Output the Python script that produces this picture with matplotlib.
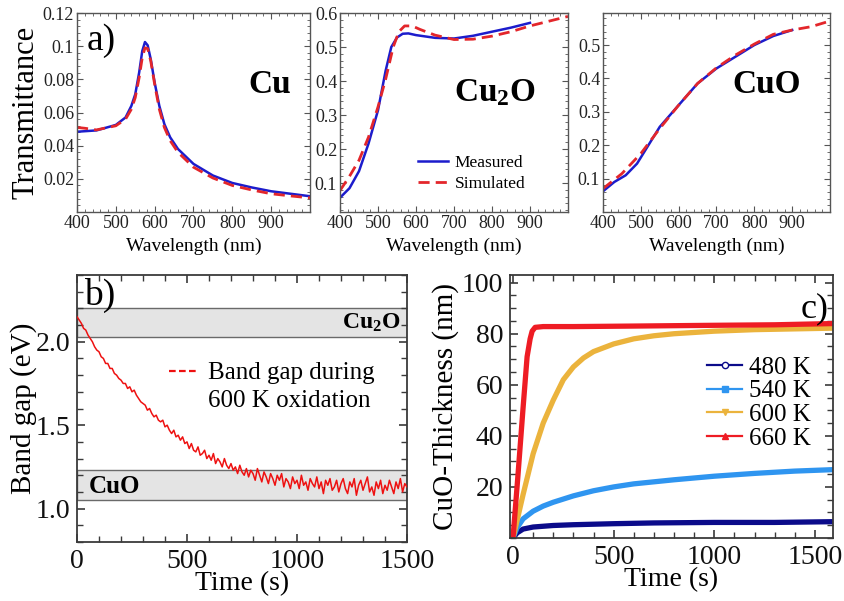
import numpy as np
import matplotlib
matplotlib.use("Agg")
import matplotlib.pyplot as plt
from matplotlib.lines import Line2D
from matplotlib.ticker import MultipleLocator, FixedLocator

plt.rcParams['font.family'] = ['Liberation Serif', 'DejaVu Serif']
plt.rcParams['mathtext.fontset'] = 'custom'
plt.rcParams['mathtext.rm'] = 'Liberation Serif'
plt.rcParams['mathtext.bf'] = 'Liberation Serif:bold'
plt.rcParams['mathtext.default'] = 'bf'

# ---------------- data: panel a ----------------
cu_wl_meas = [400, 450, 500, 525, 540, 550, 560, 568, 575, 582, 590, 600, 612, 625, 640, 660, 700, 750, 800, 850, 900, 950, 1000]
cu_meas = [0.0484, 0.0492, 0.0525, 0.057, 0.064, 0.071, 0.084, 0.097, 0.1025, 0.1005, 0.092, 0.078, 0.064, 0.053, 0.045,
           0.038, 0.029, 0.022, 0.0175, 0.0148, 0.0125, 0.011, 0.0095]
cu_wl_sim = [400, 420, 450, 500, 525, 540, 550, 560, 568, 575, 582, 590, 600, 612, 625, 640, 660, 700, 750, 800, 850, 900, 950, 1000]
cu_sim = [0.051, 0.0505, 0.0495, 0.052, 0.056, 0.062, 0.069, 0.081, 0.093, 0.099, 0.0985, 0.091, 0.077, 0.062, 0.051, 0.043,
          0.036, 0.027, 0.0205, 0.016, 0.0133, 0.011, 0.0097, 0.0085]

cu2o_wl_meas = [400, 425, 450, 475, 500, 520, 535, 550, 565, 580, 600, 650, 700, 750, 800, 850, 900]
cu2o_meas = [0.057, 0.085, 0.135, 0.216, 0.314, 0.43, 0.50, 0.528, 0.539, 0.54, 0.535, 0.527, 0.525, 0.533, 0.545, 0.557, 0.571]
cu2o_wl_sim = [400, 425, 450, 475, 500, 520, 540, 555, 570, 590, 610, 650, 700, 750, 800, 850, 900, 950, 1000]
cu2o_sim = [0.078, 0.12, 0.167, 0.235, 0.324, 0.405, 0.50, 0.545, 0.562, 0.562, 0.552, 0.535, 0.522, 0.523, 0.532, 0.545,
            0.562, 0.576, 0.59]

cuo_wl_meas = [400, 430, 460, 490, 520, 550, 600, 650, 700, 750, 800, 850, 900]
cuo_meas = [0.062, 0.09, 0.11, 0.145, 0.20, 0.255, 0.32, 0.385, 0.43, 0.465, 0.50, 0.527, 0.545]
cuo_wl_sim = [400, 450, 500, 550, 600, 650, 700, 750, 800, 850, 900, 950, 1000]
cuo_sim = [0.07, 0.115, 0.175, 0.25, 0.32, 0.385, 0.432, 0.47, 0.503, 0.532, 0.545, 0.555, 0.572]

wl_ticks = [400, 500, 600, 700, 800, 900]
cu_yticks = [0.02, 0.04, 0.06, 0.08, 0.1, 0.12]
cu_ylabels = ['0.02', '0.04', '0.06', '0.08', '0.1', '0.12']
cu2o_yticks = [0.1, 0.2, 0.3, 0.4, 0.5, 0.6]
cuo_yticks = [0.1, 0.2, 0.3, 0.4, 0.5]

# ---------------- data: panel b ----------------
bg_time_step = 10
band_gap = [
    2.15, 2.13, 2.11, 2.08, 2.07, 2.04, 2.02, 2.00, 1.97, 1.95,
    1.94, 1.91, 1.90, 1.87, 1.87, 1.84, 1.84, 1.81, 1.80, 1.78,
    1.77, 1.75, 1.75, 1.72, 1.73, 1.70, 1.71, 1.68, 1.66, 1.64,
    1.63, 1.62, 1.59, 1.60, 1.57, 1.55, 1.56, 1.53, 1.52, 1.53,
    1.49, 1.50, 1.47, 1.45, 1.47, 1.43, 1.44, 1.41, 1.43, 1.39,
    1.40, 1.36, 1.39, 1.35, 1.34, 1.37, 1.32, 1.33, 1.35, 1.30,
    1.32, 1.29, 1.33, 1.27, 1.30, 1.28, 1.25, 1.30, 1.26, 1.24,
    1.27, 1.23, 1.25, 1.21, 1.26, 1.22, 1.20, 1.24, 1.19, 1.23,
    1.21, 1.17, 1.24, 1.20, 1.16, 1.22, 1.19, 1.15, 1.21, 1.18,
    1.14, 1.20, 1.17, 1.21, 1.13, 1.18, 1.16, 1.12, 1.19, 1.15,
    1.17, 1.12, 1.20, 1.14, 1.16, 1.11, 1.18, 1.15, 1.13, 1.19,
    1.12, 1.16, 1.09, 1.17, 1.14, 1.18, 1.11, 1.13, 1.17, 1.10,
    1.15, 1.18, 1.12, 1.09, 1.16, 1.13, 1.18, 1.08, 1.14, 1.17,
    1.11, 1.15, 1.19, 1.10, 1.13, 1.08, 1.16, 1.12, 1.17, 1.09,
    1.14, 1.11, 1.17, 1.13, 1.09, 1.16, 1.12, 1.18, 1.10, 1.15,
    1.13]
cu2o_band = (2.03, 2.20)
cuo_band = (1.05, 1.23)

# ---------------- data: panel c ----------------
t660 = [0, 25, 50, 70, 85, 95, 110, 150, 300, 600, 1000, 1300, 1600]
th660 = [0, 25, 51, 71, 78, 81, 82.5, 82.8, 82.8, 83.0, 83.3, 83.5, 84.0]
t600 = [0, 50, 100, 150, 200, 250, 300, 350, 400, 500, 600, 700, 800, 1000, 1200, 1600]
th600 = [0, 17, 33, 45, 54, 62, 67, 70.5, 73, 76, 78, 79.2, 80, 81, 81.6, 82.2]
t540 = [0, 20, 50, 100, 150, 200, 300, 400, 500, 600, 700, 800, 1000, 1200, 1400, 1600]
th540 = [0, 4, 7.5, 10.5, 12.5, 14, 16.5, 18.5, 20, 21.2, 22, 22.8, 24.2, 25.3, 26.2, 26.8]
t480 = [0, 20, 50, 100, 200, 300, 500, 700, 1000, 1300, 1600]
th480 = [0, 2, 3.5, 4.3, 4.9, 5.2, 5.6, 5.9, 6.1, 6.1, 6.4]
c_labels = ['480 K', '540 K', '600 K', '660 K']
c_colors = ['#0b0b8a', '#2f95f0', '#ebb33c', '#ee1c24']
c_markers = ['o', 's', 'v', '^']

W, H = 845, 601
fig = plt.figure(figsize=(W / 100, H / 100), dpi=100)


def box(l, r, t, b):
    return [l / W, 1 - b / H, (r - l) / W, (b - t) / H]


spine_col = '#3a3a3a'
blue = '#1c1ccc'
red = '#e3262b'


def style_top(ax):
    for s in ax.spines.values():
        s.set_color('#555555')
        s.set_linewidth(1.0)
    ax.tick_params(which='both', direction='in', top=True, right=True, colors='#555555',
                   labelcolor='#222222', labelsize=13, pad=2)
    ax.tick_params(which='major', length=4, width=0.8)
    ax.tick_params(which='minor', length=2, width=0.6)
    ax.set_xlim(400, 1000)
    ax.xaxis.set_major_locator(FixedLocator(wl_ticks))
    ax.xaxis.set_minor_locator(MultipleLocator(20))
    ax.set_xlabel('Wavelength (nm)', fontsize=14, labelpad=4)


dash = (4, 2.2)

# Cu
ax1 = fig.add_axes(box(77, 310, 13, 212))
ax1.plot(cu_wl_meas, cu_meas, color=blue, lw=1.8)
ax1.plot(cu_wl_sim, cu_sim, color=red, lw=2.0, ls=(0, dash))
style_top(ax1)
ax1.set_ylim(0, 0.12)
ax1.yaxis.set_major_locator(FixedLocator(cu_yticks))
ax1.set_yticklabels(cu_ylabels)
ax1.yaxis.set_minor_locator(MultipleLocator(0.004))
ax1.set_ylabel('Transmittance', fontsize=22, labelpad=2)
ax1.text(0.04, 0.95, 'a)', transform=ax1.transAxes, fontsize=27, va='top', ha='left')
ax1.text(0.92, 0.64, 'Cu', transform=ax1.transAxes, fontsize=24, fontweight='bold', ha='right', va='center')

# Cu2O
ax2 = fig.add_axes(box(340, 568, 13, 212))
ax2.plot(cu2o_wl_meas, cu2o_meas, color=blue, lw=1.8, label='Measured')
ax2.plot(cu2o_wl_sim, cu2o_sim, color=red, lw=2.0, ls=(0, dash), label='Simulated')
style_top(ax2)
ax2.set_ylim(0.015, 0.6)
ax2.yaxis.set_major_locator(FixedLocator(cu2o_yticks))
ax2.yaxis.set_minor_locator(MultipleLocator(0.02))
ax2.text(0.86, 0.60, 'Cu$_2$O', transform=ax2.transAxes, fontsize=24, fontweight='bold', ha='right', va='center')
ax2.legend(loc='lower right', bbox_to_anchor=(0.86, 0.05), frameon=False, fontsize=12.5, handlelength=1.7,
           handletextpad=0.4, labelspacing=0.25, borderaxespad=0.2)

# CuO
ax3 = fig.add_axes(box(603, 830, 13, 212))
ax3.plot(cuo_wl_meas, cuo_meas, color=blue, lw=1.8)
ax3.plot(cuo_wl_sim, cuo_sim, color=red, lw=2.0, ls=(0, dash))
style_top(ax3)
ax3.set_ylim(0.0, 0.596)
ax3.yaxis.set_major_locator(FixedLocator(cuo_yticks))
ax3.yaxis.set_minor_locator(MultipleLocator(0.02))
ax3.text(0.87, 0.64, 'CuO', transform=ax3.transAxes, fontsize=24, fontweight='bold', ha='right', va='center')


def style_bottom(ax):
    for s in ax.spines.values():
        s.set_color(spine_col)
        s.set_linewidth(1.3)
    ax.tick_params(which='both', direction='in', top=True, right=True, colors=spine_col,
                   labelcolor='#111111', labelsize=20, pad=5)
    ax.tick_params(which='major', length=6, width=1.2)
    ax.tick_params(which='minor', length=4, width=1.0)
    ax.xaxis.set_major_locator(MultipleLocator(500))
    ax.xaxis.set_minor_locator(MultipleLocator(100))
    ax.set_xlabel('Time (s)', fontsize=20, labelpad=-2)


# Panel b
axb = fig.add_axes(box(77, 407, 275, 542))
tb = np.arange(len(band_gap)) * bg_time_step
axb.axhspan(*cu2o_band, facecolor='#e4e4e4', edgecolor='#6a6a6a', lw=1.0, zorder=0)
axb.axhspan(*cuo_band, facecolor='#e4e4e4', edgecolor='#6a6a6a', lw=1.0, zorder=0)
axb.plot(tb, band_gap, color='#ee1111', lw=1.1, zorder=3)
style_bottom(axb)
axb.set_xlim(0, 1500)
axb.set_ylim(0.8, 2.4)
axb.yaxis.set_major_locator(FixedLocator([1.0, 1.5, 2.0]))
axb.yaxis.set_minor_locator(MultipleLocator(0.1))
axb.set_yticklabels(['1.0', '1.5', '2.0'])
axb.set_ylabel('Band gap (eV)', fontsize=21, labelpad=-1)
axb.text(0.02, 0.99, 'b)', transform=axb.transAxes, fontsize=27, va='top', ha='left')
axb.text(0.98, sum(cu2o_band) / 2, 'Cu$_2$O', transform=axb.get_yaxis_transform(), fontsize=17,
         fontweight='bold', ha='right', va='center')
axb.text(0.035, sum(cuo_band) / 2 - 0.005, 'CuO', transform=axb.get_yaxis_transform(), fontsize=18,
         fontweight='bold', ha='left', va='center')
hb = [Line2D([], [], color='#ee1111', lw=1.6, ls=(0, (3, 1.5))), Line2D([], [], color='none')]
axb.legend(hb, ['Band gap during', '600 K oxidation'], loc='upper left', bbox_to_anchor=(0.28, 0.675),
           frameon=False, fontsize=18, handlelength=1.2, handletextpad=0.35, labelspacing=0.2,
           borderaxespad=0.0, borderpad=0.0)

# Panel c
axc = fig.add_axes(box(510, 833, 275, 538))
series = [(t480, th480), (t540, th540), (t600, th600), (t660, th660)]
for (tt, yy), lab, col, mk in zip(series, c_labels, c_colors, c_markers):
    axc.plot(tt, yy, color=col, lw=3.8, solid_capstyle='round', solid_joinstyle='round', clip_on=True)
style_bottom(axc)
axc.set_xlim(-15, 1590)
axc.set_ylim(0, 103)
axc.yaxis.set_major_locator(FixedLocator([20, 40, 60, 80, 100]))
axc.yaxis.set_minor_locator(MultipleLocator(5))
axc.set_ylabel('CuO-Thickness (nm)', fontsize=21, labelpad=2)
axc.text(0.985, 0.935, 'c)', transform=axc.transAxes, fontsize=26, va='top', ha='right')
hc = [Line2D([], [], color=col, lw=1.6, marker=mk, markersize=4.5,
             markerfacecolor=('white' if mk == 'o' else col), markeredgecolor=col, markeredgewidth=1.0)
      for col, mk in zip(c_colors, c_markers)]
axc.legend(hc, c_labels, loc='upper right', bbox_to_anchor=(0.93, 0.692), frameon=False, fontsize=18,
           handlelength=1.4, handletextpad=0.25, labelspacing=0.05, borderaxespad=0.0, borderpad=0.0)

fig.savefig('out.png', dpi=100)
